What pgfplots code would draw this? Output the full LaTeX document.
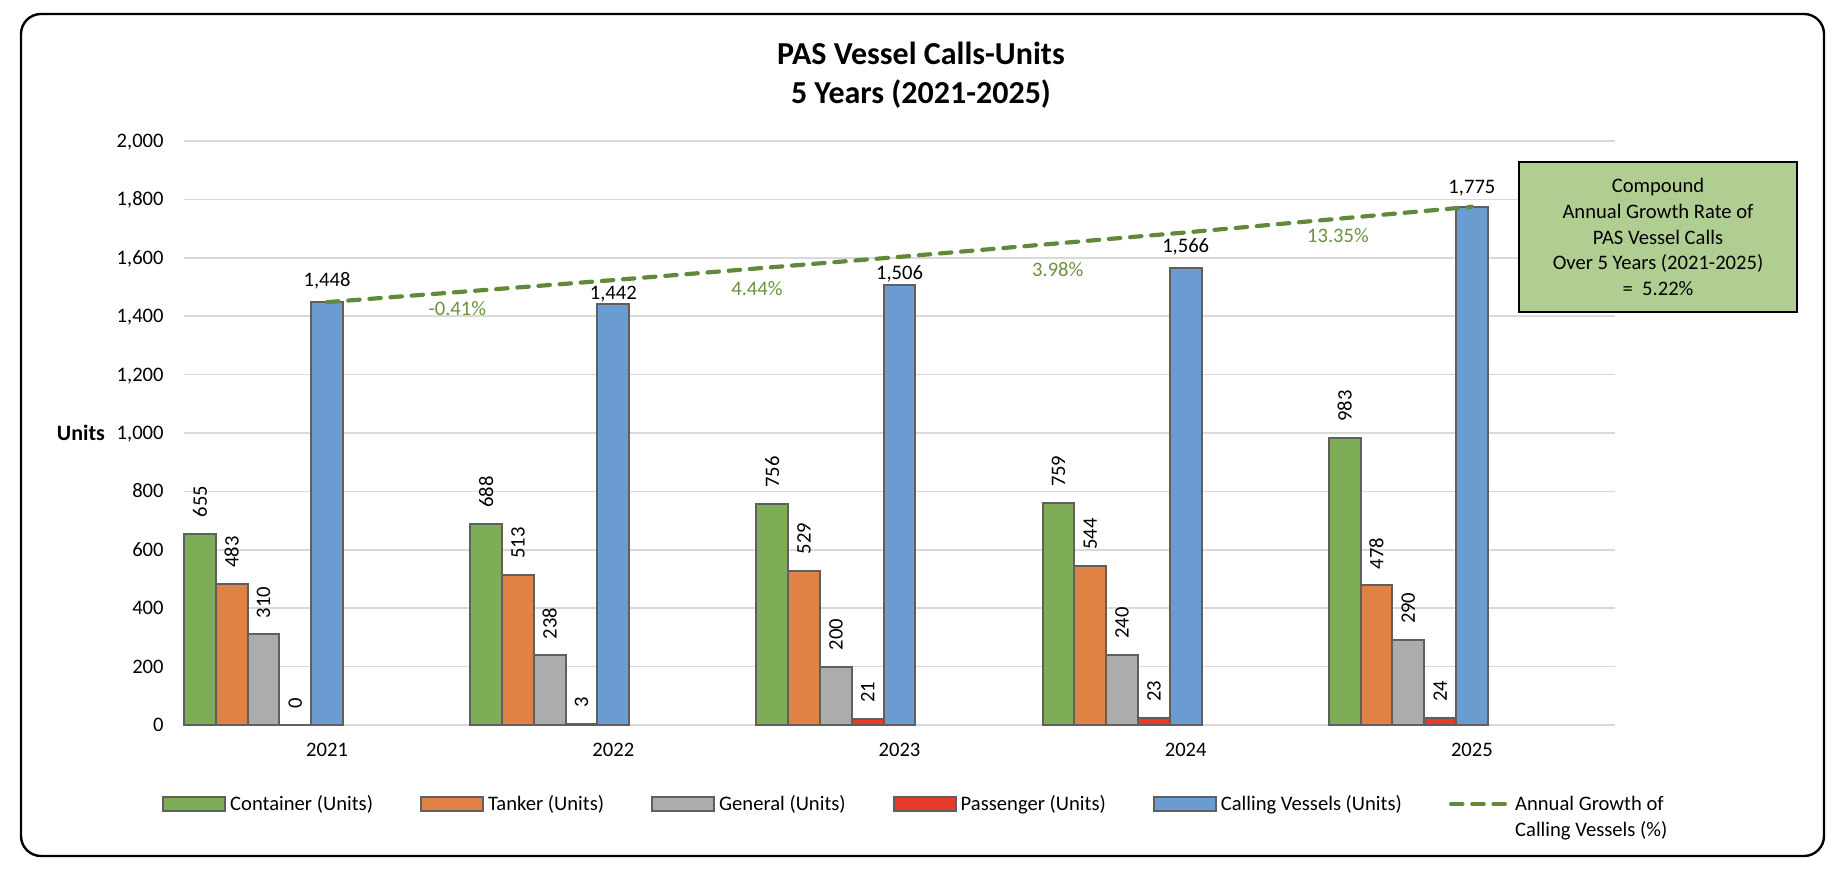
\documentclass[border=0pt]{standalone}
\usepackage{pgfplots}
\pgfplotsset{compat=1.18}
\usepackage{pgfplotstable}
\usepackage{fontspec}
\setmainfont{Carlito}

\definecolor{cGreen}{RGB}{127,172,86}
\definecolor{cOrange}{RGB}{224,130,68}
\definecolor{cGray}{RGB}{172,172,172}
\definecolor{cRed}{RGB}{232,58,42}
\definecolor{cBlue}{RGB}{106,155,209}
\definecolor{cEdge}{RGB}{95,95,95}
\definecolor{cLine}{RGB}{96,138,58}
\definecolor{cPct}{RGB}{106,146,64}
\definecolor{cBox}{RGB}{176,206,146}
\definecolor{cGrid}{RGB}{217,217,217}

\newcommand\fs{\fontsize{10.3}{12.4}\selectfont}

\pgfplotsset{
  barleg/.style={legend image code/.code={\draw[##1,/tikz/.cd] (0pt,-0.3pt) rectangle (31pt,6.7pt);}},
  lineleg/.style={legend image code/.code={\draw[##1,/tikz/.cd] (0pt,3.2pt) -- (29pt,3.2pt);}},
  rotlab/.style={nodes near coords, every node near coord/.append style={font=\fs, text=black, xshift=#1, rotate=90, anchor=west, inner ysep=0pt, inner xsep=7.7pt}},
}

\pgfplotstableread{
x cont tank gen pass call dy cagr
0 655 483 310 0 1448 7.7 1448
1 688 513 238 3 1442 2.3 1523.6
2 756 529 200 21 1506 3.0 1603.1
3 759 544 240 23 1566 7.8 1686.8
4 983 478 290 24 1775 6.7 1774.8
}\datatable

\begin{document}
\begin{tikzpicture}
\useasboundingbox (0,0) rectangle (921pt,435pt);
\draw[line width=1.2pt, rounded corners=10pt] (10.5pt,7pt) rectangle (912pt,428pt);
\begin{axis}[
  at={(92pt,72.5pt)}, anchor=south west,
  scale only axis, width=715.5pt, height=292pt,
  xmin=-0.5, xmax=4.5, ymin=0, ymax=2000,
  xtick={0,1,2,3,4}, xticklabels={2021,2022,2023,2024,2025},
  ytick={0,200,...,2000},
  ymajorgrids, grid style={cGrid, line width=0.85pt},
  axis line style={draw=none},
  major tick length=0pt,
  tick label style={font=\fs, text=black},
  yticklabel style={anchor=base east, inner sep=0pt, xshift=-10pt, yshift=-3.25pt},
  xticklabel style={anchor=base, inner sep=0pt, yshift=-15.85pt},
  /pgf/number format/assume math mode=true,
  bar width=15.9pt,
  clip=false,
  title={PAS Vessel Calls-Units\\5 Years (2021-2025)},
  title style={at={(axis description cs:0.515,1.092)}, anchor=center, align=center, font=\bfseries\fontsize{16}{19.75}\selectfont},
  ylabel={Units},
  every axis y label/.style={at={(axis description cs:-0.072,0.5)}, anchor=center, font=\bfseries\fontsize{11}{13}\selectfont},
  legend columns=6,
  legend cell align=left,
  legend style={at={(axis description cs:-0.01523,-0.1086)}, anchor=north west, draw=none, fill=none, inner sep=0pt, outer sep=0pt, font=\fontsize{10.3}{13}\selectfont, cells={anchor=base west, inner xsep=1.6pt}, /tikz/every even column/.append style={column sep=21.5pt}},
]
\addplot[ybar, bar shift=-63.6pt, fill=cGreen, draw=cEdge, line width=1pt, barleg, rotlab=-63.6pt] table[x=x, y=cont] {\datatable};
\addlegendentry{Container (Units)}
\addplot[ybar, bar shift=-47.7pt, fill=cOrange, draw=cEdge, line width=1pt, barleg, rotlab=-47.7pt] table[x=x, y=tank] {\datatable};
\addlegendentry{Tanker (Units)}
\addplot[ybar, bar shift=-31.8pt, fill=cGray, draw=cEdge, line width=1pt, barleg, rotlab=-31.8pt] table[x=x, y=gen] {\datatable};
\addlegendentry{General (Units)}
\addplot[ybar, bar shift=-15.9pt, fill=cRed, draw=cEdge, line width=1pt, barleg, rotlab=-15.9pt] table[x=x, y=pass] {\datatable};
\addlegendentry{Passenger (Units)}
\addplot[ybar, bar shift=0pt, fill=cBlue, draw=cEdge, line width=1pt, barleg,
  visualization depends on={\thisrow{dy}\as\dy},
  nodes near coords, every node near coord/.append style={font=\fs, text=black, anchor=base, inner sep=0pt, yshift=\dy*1pt}] table[x=x, y=call] {\datatable};
\addlegendentry{Calling Vessels (Units)}
\addplot[cLine, line width=2.1pt, dash pattern=on 5.7pt off 4.9pt, line cap=round, mark=none, sharp plot, lineleg] table[x=x, y=cagr] {\datatable};
\addlegendentry{\begin{tabular}[t]{@{}l@{}}Annual Growth of\\Calling Vessels (\%)\end{tabular}}

\node[text=cPct, font=\fs] at (axis cs:0.455,1426) {-0.41\%};
\node[text=cPct, font=\fs] at (axis cs:1.502,1494) {4.44\%};
\node[text=cPct, font=\fs] at (axis cs:2.553,1559) {3.98\%};
\node[text=cPct, font=\fs] at (axis cs:3.532,1677) {13.35\%};
\end{axis}
\node[draw=black, line width=1pt, fill=cBox, minimum width=139pt, minimum height=75pt, align=center, font=\fontsize{10.3}{12.9}\selectfont, inner sep=0pt] at (829pt,316.5pt) {Compound\\Annual Growth Rate of\\PAS Vessel Calls\\Over 5 Years (2021-2025)\\=\ \ 5.22\%};
\end{tikzpicture}
\end{document}
